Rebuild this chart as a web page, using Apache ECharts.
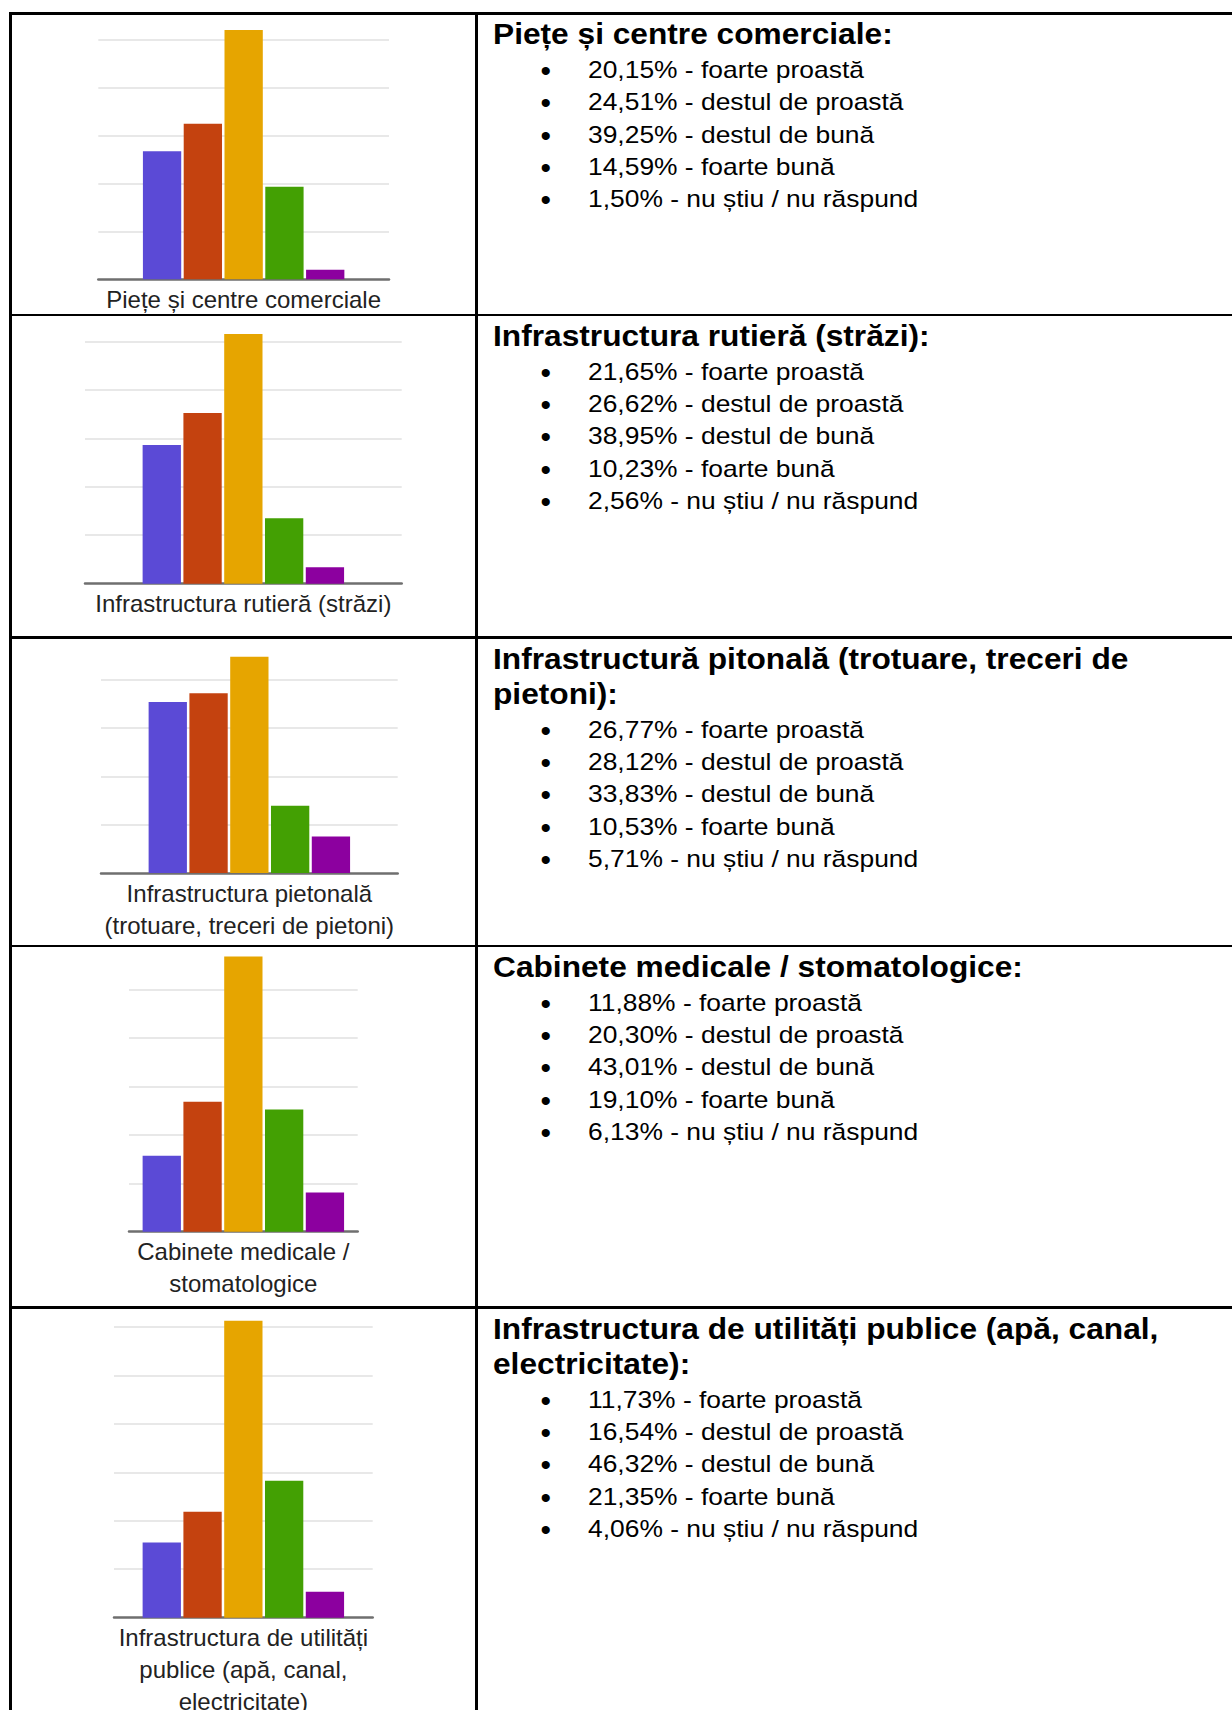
<!DOCTYPE html>
<html lang="ro">
<head>
<meta charset="utf-8">
<title>Evaluarea infrastructurii</title>
<script src="https://cdn.jsdelivr.net/npm/echarts@6/dist/echarts.min.js"></script>
<style>
  html, body { margin: 0; padding: 0; background: #fff; }
  body { width: 1232px; height: 1710px; position: relative; overflow: hidden;
         font-family: "Liberation Sans", Arial, sans-serif; }
  #chart { position: absolute; left: 0; top: 0; width: 1232px; height: 1710px; }
  .rule { position: absolute; background: #000; }
  .txt { position: absolute; white-space: nowrap; color: #000;
         transform-origin: 0 50%; transform: scaleX(1.1); }
  .head { font-weight: bold; font-size: 28.8px; line-height: 36px; height: 36px; }
  .item { font-size: 24px; line-height: 32px; height: 32px; }
  .dot { font-size: 30px; transform: none; }
</style>
</head>
<body>
<div id="chart"></div>
<div id="doc"></div>
<script>
// Areas rated in the survey (text under each bar chart)
const areas = [
  'Piețe și centre comerciale',
  'Infrastructura rutieră (străzi)',
  'Infrastructura pietonală\n(trotuare, treceri de pietoni)',
  'Cabinete medicale /\nstomatologice',
  'Infrastructura de utilități\npublice (apă, canal,\nelectricitate)'
];
// Headings of the commentary column
const headings = [
  'Piețe și centre comerciale:',
  'Infrastructura rutieră (străzi):',
  'Infrastructură pitonală (trotuare, treceri de\npietoni):',
  'Cabinete medicale / stomatologice:',
  'Infrastructura de utilități publice (apă, canal,\nelectricitate):'
];
// Answer options, in bar order
const ratings = ['foarte proastă', 'destul de proastă', 'destul de bună', 'foarte bună', 'nu știu / nu răspund'];

// Share of answers (%) per option
const pieteCentre = [20.15, 24.51, 39.25, 14.59, 1.50];
const rutiera     = [21.65, 26.62, 38.95, 10.23, 2.56];
const pietonala   = [26.77, 28.12, 33.83, 10.53, 5.71];
const cabinete    = [11.88, 20.30, 43.01, 19.10, 6.13];
const utilitati   = [11.73, 16.54, 46.32, 21.35, 4.06];

// Value axis: gridline step and upper bound of each chart
const gridStep = 7.56;
const axisMax = [40, 40, 35, 44, 48];

const chartData = [pieteCentre, rutiera, pietonala, cabinete, utilitati];
const barColors = ['#5B4AD6', '#C4420F', '#E6A500', '#43A003', '#8C009F'];

// Table geometry (px)
const rowLines = [13.3, 315, 637.5, 946, 1307.5];
const colLines = [10.3, 476.7];
const ruleW = 2.6;

// Plot frames inside the left column: x range, zero line and px per unit
const frames = [
  { x0: 98.3, x1: 389,   zero: 279.3,  unit: 6.35 },
  { x0: 85,   x1: 401.7, zero: 583.7,  unit: 6.41 },
  { x0: 101,  x1: 397.7, zero: 873,    unit: 6.39 },
  { x0: 129,  x1: 357.7, zero: 1231.7, unit: 6.40 },
  { x0: 114,  x1: 372.7, zero: 1617.7, unit: 6.41 }
];

// ---- table rules ----
const doc = document.getElementById('doc');
function addRule(l, t, w, h) {
  const d = document.createElement('div');
  d.className = 'rule';
  d.style.left = l + 'px'; d.style.top = t + 'px';
  d.style.width = w + 'px'; d.style.height = h + 'px';
  doc.appendChild(d);
}
rowLines.forEach(y => addRule(colLines[0] - ruleW / 2, y - ruleW / 2, 1232, ruleW));
colLines.forEach(x => addRule(x - ruleW / 2, rowLines[0] - ruleW / 2, ruleW, 1710));

// ---- commentary column ----
function addText(cls, text, left, centerY, h) {
  const d = document.createElement('div');
  d.className = 'txt ' + cls;
  d.textContent = text;
  d.style.left = left + 'px';
  d.style.top = (centerY - h / 2) + 'px';
  doc.appendChild(d);
}
const fmt = v => v.toFixed(2).replace('.', ',') + '%';
headings.forEach((head, i) => {
  const top = rowLines[i];
  const lines = head.split('\n');
  lines.forEach((ln, j) => addText('head', ln, 492.5, top + 21 + j * 35.5, 36));
  const first = top + 56.5 + (lines.length - 1) * 35.5;
  chartData[i].forEach((v, k) => {
    const cy = first + k * 32.4;
    addText('dot', '•', 540.5, cy, 32);
    addText('item', fmt(v) + ' - ' + ratings[k], 587.5, cy, 32);
  });
});

// ---- bar charts ----
const chart = echarts.init(document.getElementById('chart'), null, { renderer: 'svg' });
const grid = [], xAxis = [], yAxis = [], series = [];
frames.forEach((f, i) => {
  const h = axisMax[i] * f.unit;
  grid.push({ left: f.x0, top: f.zero - h, width: f.x1 - f.x0, height: h,
              containLabel: false, outerBoundsMode: 'none' });
  xAxis.push({
    type: 'category', gridIndex: i, data: [areas[i]],
    axisTick: { show: false },
    axisLine: { show: true, lineStyle: { color: '#6f6f6f', width: 2.5 } },
    axisLabel: { interval: 0, color: '#222', fontSize: 24, lineHeight: 32, margin: 4,
                 fontFamily: '"Liberation Sans", Arial, sans-serif' },
    splitLine: { show: false }
  });
  yAxis.push({
    type: 'value', gridIndex: i, min: 0, max: axisMax[i], interval: gridStep,
    axisLabel: { show: false }, axisLine: { show: false }, axisTick: { show: false },
    splitLine: { show: true, showMinLine: false, showMaxLine: false,
                 lineStyle: { color: '#e0e0e0', width: 1.6 } }
  });
  chartData[i].forEach((v, k) => {
    series.push({
      type: 'bar', name: ratings[k], xAxisIndex: i, yAxisIndex: i,
      data: [v], barWidth: 38.3, barGap: '6.5%',
      itemStyle: { color: barColors[k] }, silent: true
    });
  });
});
chart.setOption({ animation: false, grid, xAxis, yAxis, series });
</script>
</body>
</html>
